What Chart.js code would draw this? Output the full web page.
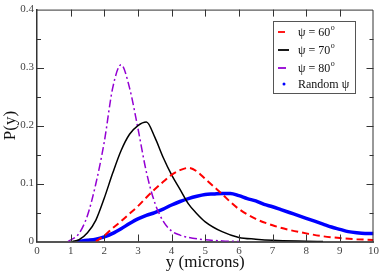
<!DOCTYPE html>
<html>
<head>
<meta charset="utf-8">
<script src="https://cdn.jsdelivr.net/npm/chart.js@4.4.1/dist/chart.umd.min.js"></script>
<style>
  html, body { margin: 0; padding: 0; background: #fff; }
  #wrap { width: 382px; height: 274px; }
</style>
</head>
<body>
<div id="wrap"><canvas id="chart"></canvas></div>
<script>
// P(y) distributions
const x60 = [1.75, 2.0, 2.25, 2.5, 2.75, 3.0, 3.25, 3.5, 3.75, 4.0, 4.25, 4.5, 4.75, 5.0, 5.25, 5.5, 5.75, 6.0, 6.5, 7.0, 7.5, 8.0, 8.5, 9.0, 9.5, 10];
const y60 = [0, 0.01, 0.023, 0.035, 0.048, 0.061, 0.076, 0.09, 0.103, 0.115, 0.123, 0.127, 0.121, 0.108, 0.095, 0.082, 0.068, 0.056, 0.039, 0.028, 0.02, 0.014, 0.009, 0.006, 0.004, 0.0025];

const x70 = [1.05, 1.25, 1.5, 1.75, 2.0, 2.25, 2.5, 2.75, 3.0, 3.25, 3.5, 3.75, 4.0, 4.25, 4.5, 4.75, 5.0, 5.5, 6.0, 6.5, 7.0, 8.0, 8.5];
const y70 = [0, 0.003, 0.015, 0.037, 0.075, 0.118, 0.157, 0.185, 0.2, 0.206, 0.18, 0.145, 0.115, 0.09, 0.065, 0.048, 0.034, 0.017, 0.007, 0.004, 0.002, 0.0005, 0];

const x80 = [0.92, 1.25, 1.5, 1.75, 2.0, 2.25, 2.5, 2.75, 3.0, 3.25, 3.5, 3.75, 4.0, 4.25, 4.5, 5.0, 5.5, 6.0];
const y80 = [0, 0.014, 0.045, 0.1, 0.172, 0.265, 0.305, 0.265, 0.195, 0.12, 0.067, 0.035, 0.018, 0.011, 0.007, 0.003, 0.001, 0];

const xRand = [1.2, 1.5, 1.75, 2.0, 2.25, 2.5, 2.75, 3.0, 3.25, 3.5, 3.75, 4.0, 4.25, 4.5, 4.75, 5.0, 5.25, 5.5, 5.75, 6.0, 6.25, 6.5, 6.75, 7.0, 7.25, 7.5, 7.75, 8.0, 8.25, 8.5, 8.75, 9.0, 9.25, 9.5, 9.75, 10];
const yRand = [0, 0.002, 0.004, 0.008, 0.014, 0.022, 0.031, 0.039, 0.045, 0.05, 0.056, 0.063, 0.069, 0.074, 0.078, 0.081, 0.082, 0.083, 0.083, 0.079, 0.074, 0.07, 0.064, 0.06, 0.055, 0.05, 0.045, 0.04, 0.035, 0.03, 0.025, 0.021, 0.017, 0.015, 0.014, 0.014];

const legendNames = ['60', '70', '80', 'Random'];

const SERIF = '"Liberation Serif", "Times New Roman", serif';

function pts(xs, ys) {
    return xs.map((v, i) => ({ x: v, y: ys[i] }));
}

// inward ticks on all four sides + top/right frame
const frameTicks = {
    id: 'frameTicks',
    afterDatasetsDraw(chart) {
        const { ctx, chartArea: a, scales: { x, y } } = chart;
        ctx.save();
        ctx.strokeStyle = '#333';
        ctx.lineWidth = 1;
        ctx.beginPath();
        ctx.moveTo(a.left, a.top + 0.5);
        ctx.lineTo(a.right - 0.5, a.top + 0.5);
        ctx.lineTo(a.right - 0.5, a.bottom);
        for (let v = 1; v < 10; v++) {
            const px = Math.round(x.getPixelForValue(v)) + 0.5;
            ctx.moveTo(px, a.bottom);
            ctx.lineTo(px, a.bottom - 7);
            ctx.moveTo(px, a.top);
            ctx.lineTo(px, a.top + 7);
        }
        for (let k = 1; k < 8; k++) {
            const py = Math.round(y.getPixelForValue(k * 0.05)) + 0.5;
            const len = k % 2 === 0 ? 7 : 4;
            ctx.moveTo(a.left, py);
            ctx.lineTo(a.left + len, py);
            ctx.moveTo(a.right, py);
            ctx.lineTo(a.right - len, py);
        }
        ctx.stroke();
        ctx.restore();
    }
};

// legend box in the upper right
const boxLegend = {
    id: 'boxLegend',
    afterDraw(chart) {
        const { ctx } = chart;
        const bx = 273.5, by = 21.5, bw = 82, bh = 72;
        ctx.save();
        ctx.fillStyle = '#fff';
        ctx.fillRect(bx, by, bw, bh);
        ctx.strokeStyle = '#555';
        ctx.lineWidth = 1;
        ctx.strokeRect(bx, by, bw, bh);
        const rows = [32, 50, 68, 84];
        chart.data.datasets.forEach((ds, i) => {
            const ry = rows[i];
            ctx.strokeStyle = ds.borderColor;
            ctx.lineWidth = 1.8;
            ctx.setLineDash(ds.borderDash || []);
            if (i < 3) {
                ctx.beginPath();
                ctx.moveTo(278, ry);
                ctx.lineTo(289, ry);
                ctx.stroke();
            } else {
                ctx.fillStyle = ds.borderColor;
                ctx.beginPath();
                ctx.arc(284, ry, 1.5, 0, Math.PI * 2);
                ctx.fill();
            }
            ctx.setLineDash([]);
            ctx.fillStyle = '#111';
            ctx.textBaseline = 'middle';
            ctx.font = '12px ' + SERIF;
            if (i < 3) {
                const s = 'ψ = ' + legendNames[i];
                ctx.fillText(s, 298, ry + 1);
                const w = ctx.measureText(s).width;
                ctx.font = '8px ' + SERIF;
                ctx.fillText('o', 298 + w + 0.5, ry - 4);
            } else {
                ctx.fillText(legendNames[i] + ' ψ', 298, ry + 1);
            }
        });
        ctx.restore();
    }
};

new Chart(document.getElementById('chart').getContext('2d'), {
    type: 'line',
    data: {
        datasets: [
            {
                label: 'ψ = 60°',
                data: pts(x60, y60),
                borderColor: '#ff0000',
                borderWidth: 2,
                borderDash: [7, 4],
            },
            {
                label: 'ψ = 70°',
                data: pts(x70, y70),
                borderColor: '#000000',
                borderWidth: 1.5,
            },
            {
                label: 'ψ = 80°',
                data: pts(x80, y80),
                borderColor: '#9400d3',
                borderWidth: 1.5,
                borderDash: [8, 3, 2, 3],
            },
            {
                label: 'Random ψ',
                data: pts(xRand, yRand),
                borderColor: '#0000ff',
                borderWidth: 3.5,
            }
        ]
    },
    options: {
        responsive: true,
        maintainAspectRatio: false,
        animation: false,
        layout: { padding: { top: 5, right: 6, left: 0, bottom: 0 } },
        elements: {
            point: { radius: 0 },
            line: { cubicInterpolationMode: 'monotone', fill: false }
        },
        plugins: {
            legend: { display: false },
            tooltip: { enabled: false }
        },
        scales: {
            x: {
                type: 'linear',
                min: 0,
                max: 10,
                afterFit: (s) => { s.height = 32.5; },
                grid: { display: false, drawTicks: false },
                border: { display: true, color: '#555', width: 2 },
                ticks: {
                    stepSize: 1,
                    padding: 3,
                    maxRotation: 0,
                    color: '#444',
                    font: { family: SERIF, size: 11 }
                },
                title: {
                    display: true,
                    text: 'y (microns)',
                    color: '#111',
                    padding: { top: 0, bottom: 1 },
                    font: { family: SERIF, size: 17 }
                }
            },
            y: {
                min: 0,
                max: 0.4,
                afterFit: (s) => { s.width = 37; },
                grid: { display: false, drawTicks: false },
                border: { display: true, color: '#333', width: 1.5 },
                ticks: {
                    stepSize: 0.1,
                    padding: 3,
                    color: '#444',
                    font: { family: SERIF, size: 11 },
                    callback: (v) => (v === 0 ? '0' : v.toFixed(1))
                },
                title: {
                    display: true,
                    text: 'P(y)',
                    color: '#111',
                    padding: { top: 0, bottom: 0 },
                    font: { family: SERIF, size: 17 }
                }
            }
        }
    },
    plugins: [frameTicks, boxLegend]
});
</script>
</body>
</html>
